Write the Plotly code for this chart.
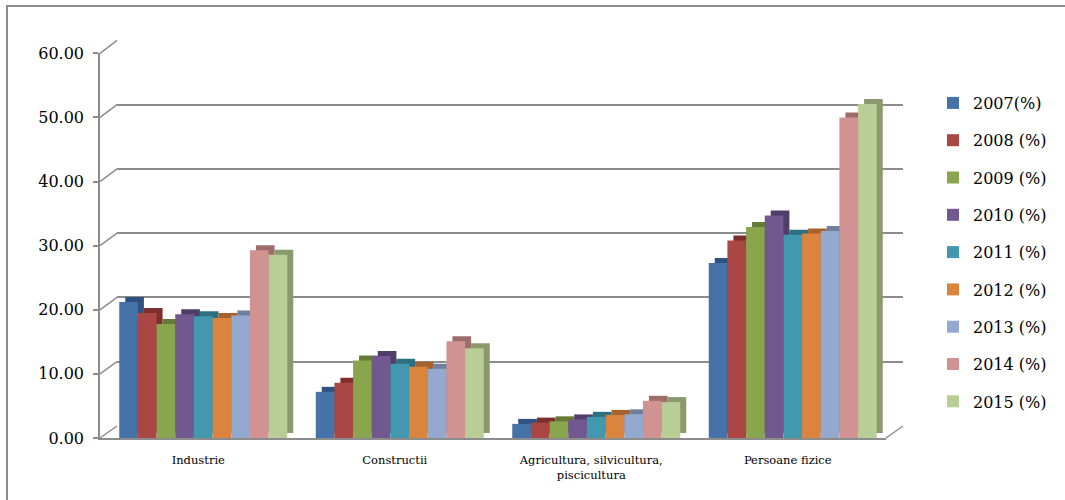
import plotly.graph_objects as go

W, H = 1065, 500

categories = ["Industrie", "Constructii", "Agricultura, silvicultura,<br>piscicultura", "Persoane fizice"]
series_names = ["2007(%)", "2008 (%)", "2009 (%)", "2010 (%)", "2011 (%)",
                "2012 (%)", "2013 (%)", "2014 (%)", "2015 (%)"]

v2007 = [21.2, 7.2, 2.2, 27.3]
v2008 = [19.5, 8.6, 2.4, 30.8]
v2009 = [17.8, 12.1, 2.6, 32.9]
v2010 = [19.3, 12.8, 2.9, 34.7]
v2011 = [19.0, 11.6, 3.3, 31.7]
v2012 = [18.7, 11.1, 3.6, 31.9]
v2013 = [19.1, 10.8, 3.7, 32.3]
v2014 = [29.3, 15.1, 5.8, 50.0]
v2015 = [28.6, 14.0, 5.6, 52.1]
series_values = [v2007, v2008, v2009, v2010, v2011, v2012, v2013, v2014, v2015]

y_tickvals = [0, 10, 20, 30, 40, 50, 60]
y_ticktext = ["0.00", "10.00", "20.00", "30.00", "40.00", "50.00", "60.00"]
Y_RANGE = [0, 60.05]

front_colors = ["#4572A7", "#AA4643", "#89A54E", "#71588F", "#4198AF",
                "#DB843D", "#93A9CF", "#D19392", "#B9CD96"]
dark_colors = ["#2F5283", "#7E2F2D", "#657A37", "#503D69", "#2D7082",
               "#A5622B", "#6F809F", "#9E6C6B", "#8A9A6E"]

GRID = "#8c8c8c"
FONT = "DejaVu Serif"


def px(x):
    return x / W


def py(y):
    return 1 - y / H


# geometry (page pixels)
front_l, front_r, front_b, front_t = 100, 886, 438, 53
back_l, back_r, back_b, back_t = 117, 903, 426, 40
bar_l, bar_r = 105, 891
sh_dx, sh_dy = 6, 5

fig = go.Figure()

# back wall (gridlines)
fig.add_trace(go.Scatter(x=[None], y=[None], xaxis="x", yaxis="y",
                         showlegend=False, hoverinfo="skip"))

# depth faces of the bars
for name, vals, dc in zip(series_names, series_values, dark_colors):
    fig.add_trace(go.Bar(x=list(range(len(categories))), y=vals, name=name,
                         marker=dict(color=dc, line=dict(width=0)),
                         xaxis="x2", yaxis="y2", showlegend=False, hoverinfo="skip"))

# front faces of the bars
for i, (name, vals, fc) in enumerate(zip(series_names, series_values, front_colors)):
    fig.add_trace(go.Bar(x=list(range(len(categories))), y=vals, name=name,
                         marker=dict(color=fc, line=dict(width=0)),
                         xaxis="x3", yaxis="y3", legendgroup=f"g{i}"))

# front frame with axis labels
fig.add_trace(go.Scatter(x=[None], y=[None], xaxis="x4", yaxis="y4",
                         showlegend=False, hoverinfo="skip"))

hidden_x = dict(range=[-0.5, 3.5], showgrid=False, zeroline=False, automargin=False,
                showticklabels=False, showline=False, ticks="")
hidden_y = dict(range=Y_RANGE, showgrid=False, zeroline=False, automargin=False,
                showticklabels=False, showline=False, ticks="")

shapes = []
for v in y_tickvals:
    yf = front_b - v / Y_RANGE[1] * (front_b - front_t)
    yb = back_b - v / Y_RANGE[1] * (back_b - back_t)
    shapes.append(dict(type="line", xref="paper", yref="paper",
                       x0=px(front_l), y0=py(yf), x1=px(back_l), y1=py(yb),
                       line=dict(color=GRID, width=1.5), layer="below"))
shapes.append(dict(type="line", xref="paper", yref="paper",
                   x0=px(front_r), y0=py(front_b), x1=px(back_r), y1=py(back_b),
                   line=dict(color=GRID, width=1.5), layer="below"))
shapes.append(dict(type="rect", xref="paper", yref="paper",
                   x0=px(7), y0=py(600), x1=px(1120), y1=py(6),
                   line=dict(color="#8c8c8c", width=2), fillcolor="rgba(0,0,0,0)"))

fig.update_layout(
    width=W, height=H,
    margin=dict(l=0, r=0, t=0, b=0, autoexpand=False),
    paper_bgcolor="white", plot_bgcolor="rgba(0,0,0,0)",
    barmode="group", bargap=0.145, bargroupgap=0,
    font=dict(family=FONT, size=16, color="black"),
    showlegend=True,
    legend=dict(x=px(933), y=py(86), xanchor="left", yanchor="top",
                font=dict(family=FONT, size=16, color="black"),
                tracegroupgap=13.5, itemwidth=30, bgcolor="rgba(0,0,0,0)"),
    xaxis=dict(domain=[px(back_l), px(back_r)], anchor="y", **hidden_x),
    yaxis=dict(domain=[py(back_b), py(back_t)], anchor="x", range=Y_RANGE, automargin=False,
               tickvals=y_tickvals, showgrid=True, gridcolor=GRID, gridwidth=2,
               zeroline=False, showticklabels=False, showline=False, ticks=""),
    xaxis2=dict(domain=[px(bar_l + sh_dx), px(bar_r + sh_dx)], anchor="y2", **hidden_x),
    yaxis2=dict(domain=[py(front_b - sh_dy), py(front_t - sh_dy)], anchor="x2", **hidden_y),
    xaxis3=dict(domain=[px(bar_l), px(bar_r)], anchor="y3", **hidden_x),
    yaxis3=dict(domain=[py(front_b), py(front_t)], anchor="x3", **hidden_y),
    xaxis4=dict(domain=[px(front_l), px(front_r)], anchor="y4", range=[-0.5, 3.5],
                tickvals=[0, 1, 2, 3], ticktext=categories, showgrid=False, zeroline=False,
                showline=True, linecolor=GRID, linewidth=2, ticks="", automargin=False,
                ticklabelstandoff=10, tickfont=dict(family=FONT, size=11.5, color="black")),
    yaxis4=dict(domain=[py(front_b), py(front_t)], anchor="x4", range=Y_RANGE,
                tickvals=y_tickvals, ticktext=y_ticktext, showgrid=False, zeroline=False,
                showline=True, linecolor=GRID, linewidth=1.5, ticks="outside", ticklen=5,
                tickcolor=GRID, tickwidth=1.5, ticklabelstandoff=6, automargin=False,
                tickfont=dict(family=FONT, size=16, color="black")),
    shapes=shapes,
)

fig.write_html("out.html")
